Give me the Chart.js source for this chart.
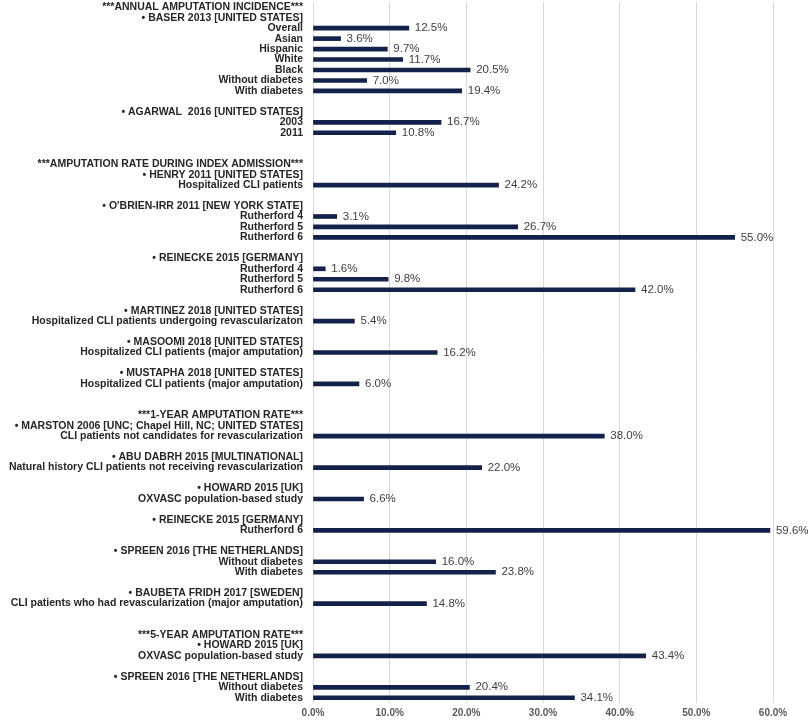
<!DOCTYPE html>
<html>
<head>
<meta charset="utf-8">
<script src="https://cdn.jsdelivr.net/npm/chart.js@4"></script>
<style>
  body { margin: 0; background: #fff; }
  #wrap { width: 810px; height: 720px; }
</style>
</head>
<body>
<div id="wrap"><canvas id="amputationChart" width="810" height="720"></canvas></div>
<script>
// Row labels, top to bottom (blank strings are spacer rows)
const rowLabels = [
    '***ANNUAL AMPUTATION INCIDENCE***',
    '\u2022 BASER 2013 [UNITED STATES]',
    'Overall', 'Asian', 'Hispanic', 'White', 'Black', 'Without diabetes', 'With diabetes',
    '',
    '\u2022 AGARWAL  2016 [UNITED STATES]',
    '2003', '2011',
    '', '',
    '***AMPUTATION RATE DURING INDEX ADMISSION***',
    '\u2022 HENRY 2011 [UNITED STATES]',
    'Hospitalized CLI patients',
    '',
    '\u2022 O\'BRIEN-IRR 2011 [NEW YORK STATE]',
    'Rutherford 4', 'Rutherford 5', 'Rutherford 6',
    '',
    '\u2022 REINECKE 2015 [GERMANY]',
    'Rutherford 4', 'Rutherford 5', 'Rutherford 6',
    '',
    '\u2022 MARTINEZ 2018 [UNITED STATES]',
    'Hospitalized CLI patients undergoing revascularizaton',
    '',
    '\u2022 MASOOMI 2018 [UNITED STATES]',
    'Hospitalized CLI patients (major amputation)',
    '',
    '\u2022 MUSTAPHA 2018 [UNITED STATES]',
    'Hospitalized CLI patients (major amputation)',
    '', '',
    '***1-YEAR AMPUTATION RATE***',
    '\u2022 MARSTON 2006 [UNC; Chapel Hill, NC; UNITED STATES]',
    'CLI patients not candidates for revascularization',
    '',
    '\u2022 ABU DABRH 2015 [MULTINATIONAL]',
    'Natural history CLI patients not receiving revascularization',
    '',
    '\u2022 HOWARD 2015 [UK]',
    'OXVASC population-based study',
    '',
    '\u2022 REINECKE 2015 [GERMANY]',
    'Rutherford 6',
    '',
    '\u2022 SPREEN 2016 [THE NETHERLANDS]',
    'Without diabetes', 'With diabetes',
    '',
    '\u2022 BAUBETA FRIDH 2017 [SWEDEN]',
    'CLI patients who had revascularization (major amputation)',
    '', '',
    '***5-YEAR AMPUTATION RATE***',
    '\u2022 HOWARD 2015 [UK]',
    'OXVASC population-based study',
    '',
    '\u2022 SPREEN 2016 [THE NETHERLANDS]',
    'Without diabetes', 'With diabetes'
];

// Amputation rate (%) per row, null for header / spacer rows
const rateValues = [
    null,
    null,
    12.5, 3.6, 9.7, 11.7, 20.5, 7.0, 19.4,
    null,
    null,
    16.7, 10.8,
    null, null,
    null,
    null,
    24.2,
    null,
    null,
    3.1, 26.7, 55.0,
    null,
    null,
    1.6, 9.8, 42.0,
    null,
    null,
    5.4,
    null,
    null,
    16.2,
    null,
    null,
    6.0,
    null, null,
    null,
    null,
    38.0,
    null,
    null,
    22.0,
    null,
    null,
    6.6,
    null,
    null,
    59.6,
    null,
    null,
    16.0, 23.8,
    null,
    null,
    14.8,
    null, null,
    null,
    null,
    43.4,
    null,
    null,
    20.4, 34.1
];

// x axis ticks (percent)
const xTicks = [0, 10, 20, 30, 40, 50, 60];

// Draw the value labels at the end of each bar
const barValueLabels = {
    id: 'barValueLabels',
    afterDatasetsDraw(chart) {
        const ctx = chart.ctx;
        const meta = chart.getDatasetMeta(0);
        ctx.save();
        ctx.font = '11.5px "Liberation Sans", Arial, sans-serif';
        ctx.fillStyle = '#404040';
        ctx.textAlign = 'left';
        ctx.textBaseline = 'middle';
        meta.data.forEach((bar, i) => {
            const v = rateValues[i];
            if (v === null) return;
            ctx.fillText(v.toFixed(1) + '%', bar.x + 6, bar.y);
        });
        ctx.restore();
    }
};

const ctx = document.getElementById('amputationChart').getContext('2d');
new Chart(ctx, {
    type: 'bar',
    data: {
        labels: rowLabels,
        datasets: [{
            data: rateValues,
            backgroundColor: '#13224a',
            barThickness: 4
        }]
    },
    options: {
        indexAxis: 'y',
        responsive: false,
        animation: false,
        layout: { padding: { top: 2, right: 37, left: 0, bottom: 0 } },
        plugins: {
            legend: { display: false },
            tooltip: { enabled: false }
        },
        scales: {
            x: {
                min: 0,
                max: 60,
                afterBuildTicks(scale) {
                    scale.ticks = xTicks.map(v => ({ value: v }));
                },
                afterFit(scale) { scale.height = 17; },
                grid: { color: '#d9d9d9', drawTicks: false },
                border: { display: false },
                ticks: {
                    padding: 4,
                    color: '#595959',
                    font: { family: '"Liberation Sans", Arial, sans-serif', size: 10, weight: 'bold' },
                    callback: v => v.toFixed(1) + '%'
                }
            },
            y: {
                afterFit(scale) {
                    scale.width = 313;
                    scale.paddingTop = 0;
                    scale.paddingBottom = 0;
                },
                grid: { display: false, drawTicks: false },
                border: { display: true, color: '#d9d9d9' },
                ticks: {
                    autoSkip: false,
                    padding: 10,
                    color: '#262626',
                    font: { family: '"Liberation Sans", Arial, sans-serif', size: 10.5, weight: 'bold', lineHeight: 1 }
                }
            }
        }
    },
    plugins: [barValueLabels]
});
</script>
</body>
</html>
